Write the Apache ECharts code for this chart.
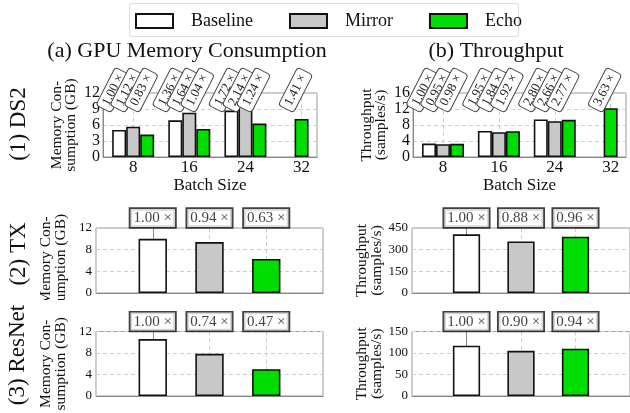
<!DOCTYPE html>
<html><head><meta charset="utf-8">
<script src="https://cdn.jsdelivr.net/npm/echarts@6/dist/echarts.min.js"></script>
<style>html,body{margin:0;padding:0;background:#fff}#c{width:630px;height:413px}</style>
</head><body><div id="c"></div>
<script>
// ---------------- data ----------------
const seriesNames = ['Baseline', 'Mirror', 'Echo'];
const batchSizes = [8, 16, 24, 32];

const ds2MemBaseline = [5.06, 6.88, 8.7, null];
const ds2MemMirror   = [5.67, 8.3, 10.83, null];
const ds2MemEcho     = [4.2, 5.26, 6.27, 7.13];
const ds2MemRatioBaseline = [1.00, 1.36, 1.72, null];
const ds2MemRatioMirror   = [1.12, 1.64, 2.14, null];
const ds2MemRatioEcho     = [0.83, 1.04, 1.24, 1.41];

const ds2TpBaseline = [3.35, 6.5, 9.4, null];
const ds2TpMirror   = [3.2, 6.2, 8.95, null];
const ds2TpEcho     = [3.3, 6.45, 9.3, 12.2];
const ds2TpRatioBaseline = [1.00, 1.95, 2.80, null];
const ds2TpRatioMirror   = [0.95, 1.84, 2.66, null];
const ds2TpRatioEcho     = [0.98, 1.92, 2.77, 3.63];

const txMemory = [10.0, 9.4, 6.3];
const txMemRatio = [1.00, 0.94, 0.63];
const txThroughput = [406, 357, 390];
const txTpRatio = [1.00, 0.88, 0.96];

const resnetMemory = [10.6, 7.85, 5.0];
const resnetMemRatio = [1.00, 0.74, 0.47];
const resnetThroughput = [117, 105, 110];
const resnetTpRatio = [1.00, 0.90, 0.94];

const panelTitles = ['(a) GPU Memory Consumption', '(b) Throughput'];
const rowLabels = ['(1) DS2', '(2) TX', '(3) ResNet'];
const memName = 'Memory Con-\nsumption (GB)';
const tpName = 'Throughput\n(samples/s)';

// ---------------- style ----------------
const SERIF = 'Liberation Serif';
const COLORS = ['#ffffff', '#c8c8c8', '#00dd00'];
const EDGE = '#111';
const GRIDLINE = {color: '#cfcfcf', type: [4, 3], width: 1};
const TOP_XMIN = 3.7, TOP_XMAX = 34.2;

const option = {
  animation: false,
  backgroundColor: '#fff',
  textStyle: {fontFamily: SERIF},
  grid: [], xAxis: [], yAxis: [], series: [],
  title: [
    {text: panelTitles[0], left: 182, top: 35, textAlign: 'center',
     textStyle: {fontFamily: SERIF, fontSize: 22, fontWeight: 'normal', color: '#111'}},
    {text: panelTitles[1], left: 491, top: 35, textAlign: 'center',
     textStyle: {fontFamily: SERIF, fontSize: 22, fontWeight: 'normal', color: '#111'}}
  ],
  legend: {
    data: seriesNames, left: 130, top: 3, itemWidth: 37, itemHeight: 14, itemGap: 36,
    padding: [9, 0, 8, 5], selectedMode: false, icon: 'rect',
    itemStyle: {borderColor: EDGE, borderWidth: 2},
    textStyle: {fontFamily: SERIF, fontSize: 18, color: '#111', padding: [0, 0, 0, 13]}
  },
  graphic: [
    {type: 'rect', shape: {x: 129.5, y: 3.5, width: 389, height: 33, r: 2},
     style: {fill: 'none', stroke: '#ddd', lineWidth: 1}, z: -1}
  ]
};

function addTop(rect, yMax, yInt, yName, vals, ratios) {
  const gi = option.grid.length;
  option.grid.push(Object.assign({show: true, borderColor: '#999', borderWidth: 1}, rect));
  const yi = option.yAxis.length;
  option.yAxis.push({
    gridIndex: gi, type: 'value', min: 0, max: yMax, interval: yInt,
    name: yName, nameLocation: 'middle', nameRotate: 90, nameGap: 25,
    nameTextStyle: {fontFamily: SERIF, fontSize: 15.5, lineHeight: 14, color: '#111'},
    axisLine: {show: true, lineStyle: {color: '#888'}}, axisTick: {show: false},
    axisLabel: {fontFamily: SERIF, fontSize: 16, color: '#111', margin: 3},
    splitLine: {show: true, lineStyle: GRIDLINE}
  });
  const xi = option.xAxis.length;
  const common = {gridIndex: gi, type: 'value', min: TOP_XMIN, max: TOP_XMAX};
  option.xAxis.push(Object.assign({}, common, {
    name: 'Batch Size', nameLocation: 'middle', nameGap: 20,
    nameTextStyle: {fontFamily: SERIF, fontSize: 17, color: '#111'},
    axisLine: {lineStyle: {color: '#888'}}, axisTick: {show: false},
    axisLabel: {customValues: batchSizes, fontFamily: SERIF, fontSize: 17, color: '#111', margin: 2},
    splitLine: {show: false}
  }));
  for (let j = 0; j < 3; j++) option.xAxis.push(Object.assign({}, common, {show: false}));
  // vertical dashed grid lines at the batch sizes
  option.series.push({
    type: 'line', xAxisIndex: xi, yAxisIndex: yi, data: [], z: 0, silent: true,
    markLine: {silent: true, z: 1, symbol: 'none', label: {show: false}, lineStyle: GRIDLINE,
               data: batchSizes.map(b => ({xAxis: b}))}
  });
  const grouped = batchSizes.map((b, i) => vals[0][i] != null);
  const barStyle = k => ({color: COLORS[k], borderColor: EDGE, borderWidth: 1.6});
  const labelStyle = {
    show: true, position: [1, -3], rotate: 63, align: 'center', verticalAlign: 'middle',
    fontFamily: SERIF, fontSize: 13, color: '#222', backgroundColor: '#fff',
    borderColor: '#444', borderWidth: 1, borderRadius: 3, padding: [2, 4, 1, 4],
    formatter: p => p.value[2].toFixed(2) + ' \u00d7'
  };
  seriesNames.forEach((name, k) => {
    option.series.push({
      type: 'bar', name, xAxisIndex: xi, yAxisIndex: yi, barWidth: 14, barGap: '0%',
      itemStyle: barStyle(k),
      data: batchSizes.map((b, i) => grouped[i] && vals[k][i] != null ? [b, vals[k][i]] : null).filter(Boolean)
    });
  });
  seriesNames.forEach((name, k) => {
    const solo = batchSizes.map((b, i) => !grouped[i] && vals[k][i] != null ? [b, vals[k][i]] : null).filter(Boolean);
    if (solo.length) option.series.push({
      type: 'bar', name, xAxisIndex: xi + 2, yAxisIndex: yi, barWidth: 14,
      itemStyle: barStyle(k), data: solo
    });
  });
  seriesNames.forEach((name, k) => {
    option.series.push({
      type: 'bar', name: name + ' ratio', xAxisIndex: xi + 1, yAxisIndex: yi, barWidth: 14, barGap: '0%',
      silent: true, itemStyle: {color: 'rgba(0,0,0,0)'}, z: 5, label: labelStyle,
      data: batchSizes.map((b, i) => grouped[i] && ratios[k][i] != null ? [b, yMax, ratios[k][i]] : null).filter(Boolean)
    });
  });
  seriesNames.forEach((name, k) => {
    const solo = batchSizes.map((b, i) => !grouped[i] && ratios[k][i] != null ? [b, yMax, ratios[k][i]] : null).filter(Boolean);
    if (solo.length) option.series.push({
      type: 'bar', name: name + ' ratio solo', xAxisIndex: xi + 3, yAxisIndex: yi, barWidth: 14,
      silent: true, itemStyle: {color: 'rgba(0,0,0,0)'}, z: 5, label: labelStyle, data: solo
    });
  });
}

function addBottom(rect, yMax, yInt, yName, vals, ratios) {
  const gi = option.grid.length;
  option.grid.push(Object.assign({show: true, borderColor: '#999', borderWidth: 1}, rect));
  const yi = option.yAxis.length;
  option.yAxis.push({
    gridIndex: gi, type: 'value', min: 0, max: yMax, interval: yInt,
    name: yName, nameLocation: 'middle', nameRotate: 90, nameGap: 28,
    nameTextStyle: {fontFamily: SERIF, fontSize: 15.5, lineHeight: 15, color: '#111'},
    axisLine: {show: true, lineStyle: {color: '#888'}}, axisTick: {show: false},
    axisLabel: {fontFamily: SERIF, fontSize: 13, color: '#111', margin: 4},
    splitLine: {show: true, lineStyle: GRIDLINE}
  });
  const xi = option.xAxis.length;
  option.xAxis.push({
    gridIndex: gi, type: 'value', min: -1, max: 3, interval: 1,
    axisLine: {lineStyle: {color: '#888'}}, axisTick: {show: false}, axisLabel: {show: false},
    splitLine: {show: true, lineStyle: GRIDLINE}
  });
  option.series.push({
    type: 'bar', name: yName, xAxisIndex: xi, yAxisIndex: yi, barWidth: '50%',
    itemStyle: {borderColor: EDGE, borderWidth: 1.6},
    data: vals.map((v, k) => ({value: [k, v], itemStyle: {color: COLORS[k]}}))
  });
  option.series.push({
    type: 'scatter', xAxisIndex: xi, yAxisIndex: yi, symbolSize: 0, silent: true, z: 5,
    data: ratios.map((r, k) => [k, yMax, r]),
    label: {
      show: true, position: 'top', distance: 1, fontFamily: SERIF, fontSize: 15, color: '#111',
      backgroundColor: '#fff', borderColor: EDGE, borderWidth: 1.8, padding: [2, 3, 1, 3],
      formatter: p => p.value[2].toFixed(2) + ' \u00d7'
    }
  });
}

addTop({left: 103, top: 93, width: 214, height: 64}, 12, 3, memName,
  [ds2MemBaseline, ds2MemMirror, ds2MemEcho], [ds2MemRatioBaseline, ds2MemRatioMirror, ds2MemRatioEcho]);
addTop({left: 413, top: 93, width: 213, height: 64}, 16, 4, tpName,
  [ds2TpBaseline, ds2TpMirror, ds2TpEcho], [ds2TpRatioBaseline, ds2TpRatioMirror, ds2TpRatioEcho]);
addBottom({left: 96, top: 228, width: 227, height: 65}, 12, 4, memName, txMemory, txMemRatio);
addBottom({left: 412, top: 228, width: 220, height: 65}, 450, 150, tpName, txThroughput, txTpRatio);
addBottom({left: 96, top: 331.5, width: 227, height: 64.5}, 12, 4, memName, resnetMemory, resnetMemRatio);
addBottom({left: 412, top: 331.5, width: 220, height: 64.5}, 150, 50, tpName, resnetThroughput, resnetTpRatio);

const rowPos = [[19, 124], [19, 254], [18, 355]];
rowLabels.forEach((t, i) => {
  option.graphic.push({
    type: 'text', x: rowPos[i][0], y: rowPos[i][1], rotation: Math.PI / 2, z: 10,
    style: {text: t, fontSize: 23, fontFamily: SERIF, fill: '#111', align: 'center', verticalAlign: 'middle'}
  });
});
// the middle row is clipped by the row below it
option.graphic.push({type: 'rect', shape: {x: 30, y: 300, width: 600, height: 11}, style: {fill: '#fff'}, z: 100});

const chart = echarts.init(document.getElementById('c'), null, {renderer: 'canvas'});
chart.setOption(option);
</script></body></html>
